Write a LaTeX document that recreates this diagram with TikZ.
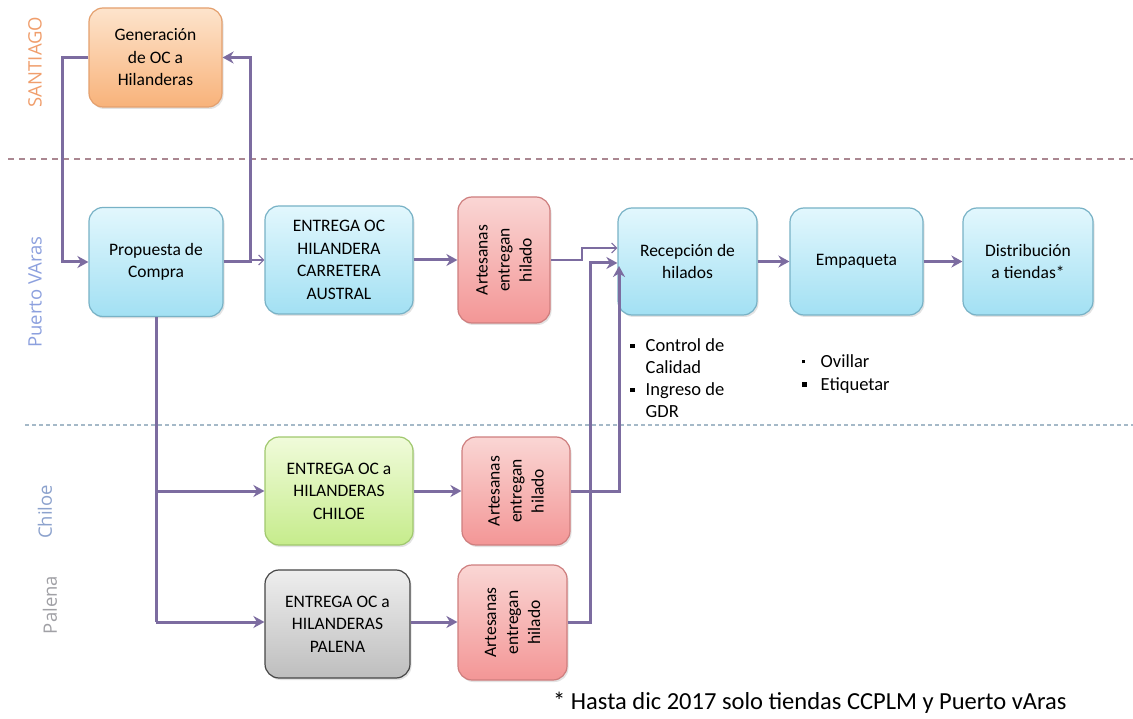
\documentclass[tikz,border=0pt]{standalone}
\usepackage{fontspec}
\setmainfont{Carlito}
\newfontfamily\lanefont{Open Sans}
\usetikzlibrary{arrows.meta,shadows}
\definecolor{conn}{RGB}{124,108,160}
\definecolor{bluetop}{RGB}{226,247,253}
\definecolor{bluebot}{RGB}{162,224,243}
\definecolor{blueln}{RGB}{120,178,198}
\definecolor{ortop}{RGB}{253,228,204}
\definecolor{orbot}{RGB}{248,178,122}
\definecolor{orln}{RGB}{228,160,110}
\definecolor{redtop}{RGB}{250,214,212}
\definecolor{redbot}{RGB}{243,150,150}
\definecolor{redln}{RGB}{206,126,126}
\definecolor{grtop}{RGB}{240,251,218}
\definecolor{grbot}{RGB}{198,236,140}
\definecolor{grln}{RGB}{160,200,110}
\definecolor{gytop}{RGB}{238,238,238}
\definecolor{gybot}{RGB}{190,190,190}
\definecolor{gyln}{RGB}{70,70,70}
\definecolor{santiago}{RGB}{240,158,108}
\definecolor{puerto}{RGB}{140,160,222}
\definecolor{chiloe}{RGB}{140,162,205}
\definecolor{palena}{RGB}{160,160,165}
\definecolor{dashtop}{RGB}{170,135,145}
\definecolor{dashbot}{RGB}{165,185,200}
\begin{document}
\begin{tikzpicture}[x=1pt,y=-1pt,
  box/.style={rounded corners=14pt, line width=1.2pt, align=center,
    font=\fontsize{17.5}{22.5}\selectfont, inner sep=2pt,
    drop shadow={opacity=0.22, shadow xshift=1.5pt, shadow yshift=-2pt}},
  bluebox/.style={box, draw=blueln, top color=bluetop, bottom color=bluebot},
  orbox/.style={box, draw=orln, top color=ortop, bottom color=orbot},
  redbox/.style={box, draw=redln, top color=redtop, bottom color=redbot},
  grbox/.style={box, draw=grln, top color=grtop, bottom color=grbot},
  gybox/.style={box, draw=gyln, top color=gytop, bottom color=gybot},
  vtext/.style={rotate=90, align=center, font=\fontsize{17.5}{22}\selectfont},
  lane/.style={rotate=90, font=\lanefont\fontsize{18.5}{22}\selectfont},
  tk/.style={draw=conn, line width=3pt, -{Stealth[length=11pt,width=12pt,inset=3.5pt]}},
  tkn/.style={draw=conn, line width=3pt},
  thin/.style={draw=conn, line width=1.1pt, -{Straight Barb[length=5pt,width=10pt]}},
  note/.style={align=left, anchor=north west, font=\fontsize{18.5}{22}\selectfont, inner sep=0pt}
]
\useasboundingbox (0,0) rectangle (1133,719);
\fill[white] (0,0) rectangle (1133,719);

% lane dividers
\draw[dashtop, line width=2pt, dash pattern=on 6pt off 5pt] (8,159) -- (1133,159);
\draw[dashbot, line width=2.5pt, dash pattern=on 4pt off 3pt] (25,425) -- (1133,425);

% lane labels
\node[lane, text=santiago] (lsan) at (35,62) {SANTIAGO};
\node[lane, text=puerto] (lpue) at (35,292) {Puerto VAras};
\node[lane, text=chiloe] (lchi) at (45,512) {Chiloe};
\node[lane, text=palena] (lpal) at (50,605) {Palena};

% boxes
\node[orbox, minimum width=133pt, minimum height=99pt] (gen) at (155.5,57.5) {Generación\\de OC a\\Hilanderas};
\node[bluebox, minimum width=134pt, minimum height=109pt] (prop) at (156,262) {Propuesta de\\Compra};
\node[bluebox, minimum width=148pt, minimum height=108pt] (carr) at (339,260) {ENTREGA OC\\HILANDERA\\CARRETERA\\AUSTRAL};
\node[redbox, minimum width=92pt, minimum height=126pt] (art1) at (504,260) {};
\node[vtext] at (art1) {Artesanas\\entregan\\hilado};
\node[bluebox, minimum width=139pt, minimum height=107pt] (rec) at (687.5,261.5) {Recepción de\\hilados};
\node[bluebox, minimum width=133pt, minimum height=107pt] (emp) at (856.5,261.5) {Empaqueta};
\node[bluebox, minimum width=130pt, minimum height=107pt] (dist) at (1028,261.5) {Distribución\\a tiendas*};
\node[grbox, minimum width=148pt, minimum height=108pt] (chil) at (339,491) {ENTREGA OC a\\HILANDERAS\\CHILOE};
\node[redbox, minimum width=108pt, minimum height=108pt] (art2) at (516,491) {};
\node[vtext] at (art2) {Artesanas\\entregan\\hilado};
\node[gybox, minimum width=145pt, minimum height=108pt] (pal) at (337.5,624) {ENTREGA OC a\\HILANDERAS\\PALENA};
\node[redbox, minimum width=109pt, minimum height=115pt] (art3) at (512.5,622.5) {};
\node[vtext] at (art3) {Artesanas\\entregan\\hilado};

% notes
\node[note] (n1) at (630,336) {%
  \begin{tabular}{@{}l@{\hspace{11pt}}l@{}}
  \raisebox{3.5pt}{\rule{4.5pt}{4.5pt}} & Control de\\
   & Calidad\\
  \raisebox{3.5pt}{\rule{4.5pt}{4.5pt}} & Ingreso de\\
   & GDR
  \end{tabular}};
\node[note, font=\fontsize{18.5}{23}\selectfont] (n2) at (802,351) {%
  \begin{tabular}{@{}l@{\hspace{14pt}}l@{}}
  \raisebox{4pt}{\rule{3pt}{3pt}} & Ovillar\\
  \raisebox{3.5pt}{\rule{4.5pt}{4.5pt}} & Etiquetar
  \end{tabular}};
\node[anchor=west, font=\fontsize{24.5}{27}\selectfont, inner sep=0pt] (foot) at (553,703) {* Hasta dic 2017 solo tiendas CCPLM y Puerto vAras};

% connectors
\draw[tk] (gen.west) -- (62,57.5) |- (prop.west);
\draw[tk] (prop.east) -- (250,262) |- (gen.east);
\coordinate (jt) at (250,260);
\draw[thin] (jt) -- (carr.west);
\draw[tk] (carr.east) -- (art1.west);
\draw[thin] (art1.east) -- (582,260) -- (582,248) -- (rec.west |- 0,248);
\draw[tkn] (prop.south) -- (156,622);
\draw[tk] (156,491) -- (chil.west);
\draw[tk] (156,622) -- (pal.west |- 0,622);
\draw[tk] (chil.east) -- (art2.west);
\draw[tk] (pal.east |- 0,622) -- (art3.west |- 0,622);
\draw[tk] (art2.east) -- (619,491) -- (619,266);
\draw[tk] (art3.east |- 0,622) -- (590,622) -- (590,263) -- (rec.west |- 0,263);
\draw[tk] (rec.east) -- (emp.west);
\draw[tk] (emp.east) -- (dist.west);
\end{tikzpicture}
\end{document}
